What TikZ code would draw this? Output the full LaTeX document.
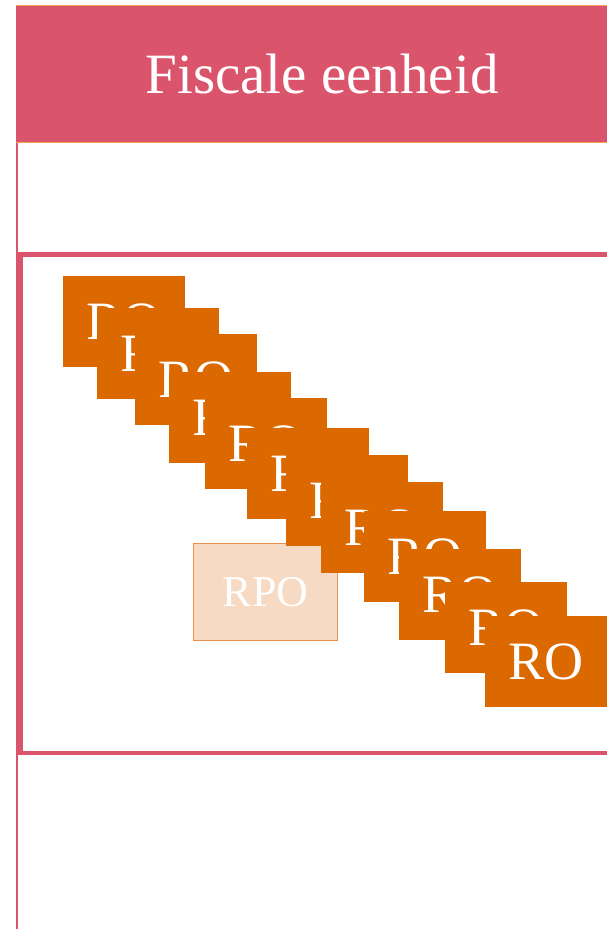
\documentclass[tikz,border=0pt]{standalone}
\usepackage{fontspec}
\setmainfont{Liberation Serif}
\definecolor{headpink}{HTML}{DA546C}
\definecolor{roorange}{HTML}{DC6900}
\definecolor{peach}{HTML}{F7DAC4}
\definecolor{peachline}{HTML}{E8904A}
\definecolor{edgeorange}{HTML}{F0A060}
\tikzset{
  robox/.style={fill=roorange, text=white, minimum width=122pt, minimum height=91pt,
    inner sep=0pt, anchor=north west, font=\fontsize{54}{60}\selectfont},
  rpobox/.style={fill=peach, draw=peachline, line width=0.9pt, text=white,
    minimum width=144pt, minimum height=97pt, inner sep=0pt, anchor=north west,
    font=\fontsize{44}{50}\selectfont},
  titlebox/.style={text=white, anchor=base, inner sep=0pt, font=\fontsize{57}{64}\selectfont}
}
\begin{document}
\begin{tikzpicture}[x=1pt,y=-1pt]
\useasboundingbox (0,0) rectangle (607,929);
\clip (0,0) rectangle (607,929);
% outer frame
\draw[headpink, line width=2pt] (17,142) rectangle (700,1000);
% header
\fill[headpink] (16,5) rectangle (700,142);
\draw[edgeorange, line width=0.8pt] (16,5) -- (700,5);
\draw[edgeorange, line width=0.8pt] (16,142) -- (700,142);
\node[titlebox] (title) at (322,93) {Fiscale eenheid};
% inner box
\draw[headpink, line width=4.4pt] (20.5,254.5) rectangle (700,753);
% RPO
\node[rpobox] (rpo) at (193,543) {RPO};
% RO boxes
\node[robox] (ro1) at (63,276) {RO};
\node[robox] (ro2) at (97,308) {RO};
\node[robox] (ro3) at (135,334) {RO};
\node[robox] (ro4) at (169,372) {RO};
\node[robox] (ro5) at (205,398) {RO};
\node[robox] (ro6) at (247,428) {RO};
\node[robox] (ro7) at (286,455) {RO};
\node[robox] (ro8) at (321,482) {RO};
\node[robox] (ro9) at (364,511) {RO};
\node[robox] (ro10) at (399,549) {RO};
\node[robox] (ro11) at (445,582) {RO};
\node[robox] (ro12) at (485,616) {RO};
\end{tikzpicture}
\end{document}
